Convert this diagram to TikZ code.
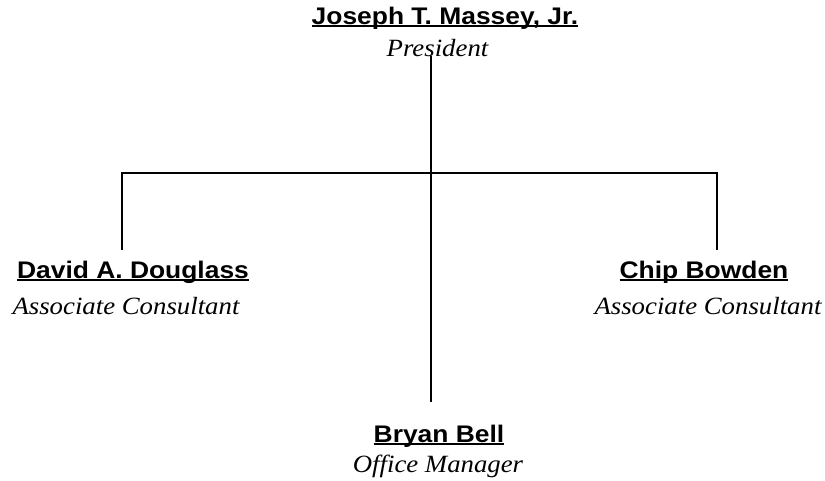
\documentclass[tikz,border=0pt]{standalone}
\usepackage{fontspec}
\setmainfont{Liberation Serif}[FakeStretch=1.08]
\setsansfont{Liberation Sans}[FakeStretch=1.1]
\usetikzlibrary{positioning}

\newcommand{\ulname}[1]{\setbox0\hbox{#1}\rlap{\rule[-2.4pt]{\wd0}{1.8pt}}\box0}

\tikzset{
  personname/.style={anchor=base, inner sep=0pt,
    font=\sffamily\bfseries\fontsize{18}{21}\selectfont},
  jobtitle/.style={anchor=base, inner sep=0pt,
    font=\itshape\fontsize{18.6}{21}\selectfont},
  orgline/.style={draw, line width=1pt}
}

\begin{document}
\begin{tikzpicture}[x=0.75pt, y=-0.75pt]
  \useasboundingbox (0,0) rectangle (825,480);

  % president
  \node[personname] (pres) at (445,24) {\ulname{Joseph T. Massey, Jr.}};
  \node[jobtitle] (presjob) at (437.5,56) {President};

  % consultants
  \node[personname] (david) at (133,278) {\ulname{David A. Douglass}};
  \node[jobtitle] (davidjob) at (126,314) {Associate Consultant};
  \node[personname] (chip) at (704,278) {\ulname{Chip Bowden}};
  \node[jobtitle] (chipjob) at (708,314) {Associate Consultant};

  % office
  \node[personname] (bryan) at (439,442) {\ulname{Bryan Bell}};
  \node[jobtitle] (bryanjob) at (438,472) {Office Manager};

  % connectors
  \coordinate (top) at (431,56);
  \coordinate (bar) at (431,173);
  \coordinate (bottom) at (431,402);
  \coordinate (leftend) at (122,250);
  \coordinate (rightend) at (717,250);
  \draw[orgline] (top) -- (bar) -- (bottom);
  \draw[orgline] (leftend) |- (bar) -| (rightend);
\end{tikzpicture}
\end{document}
